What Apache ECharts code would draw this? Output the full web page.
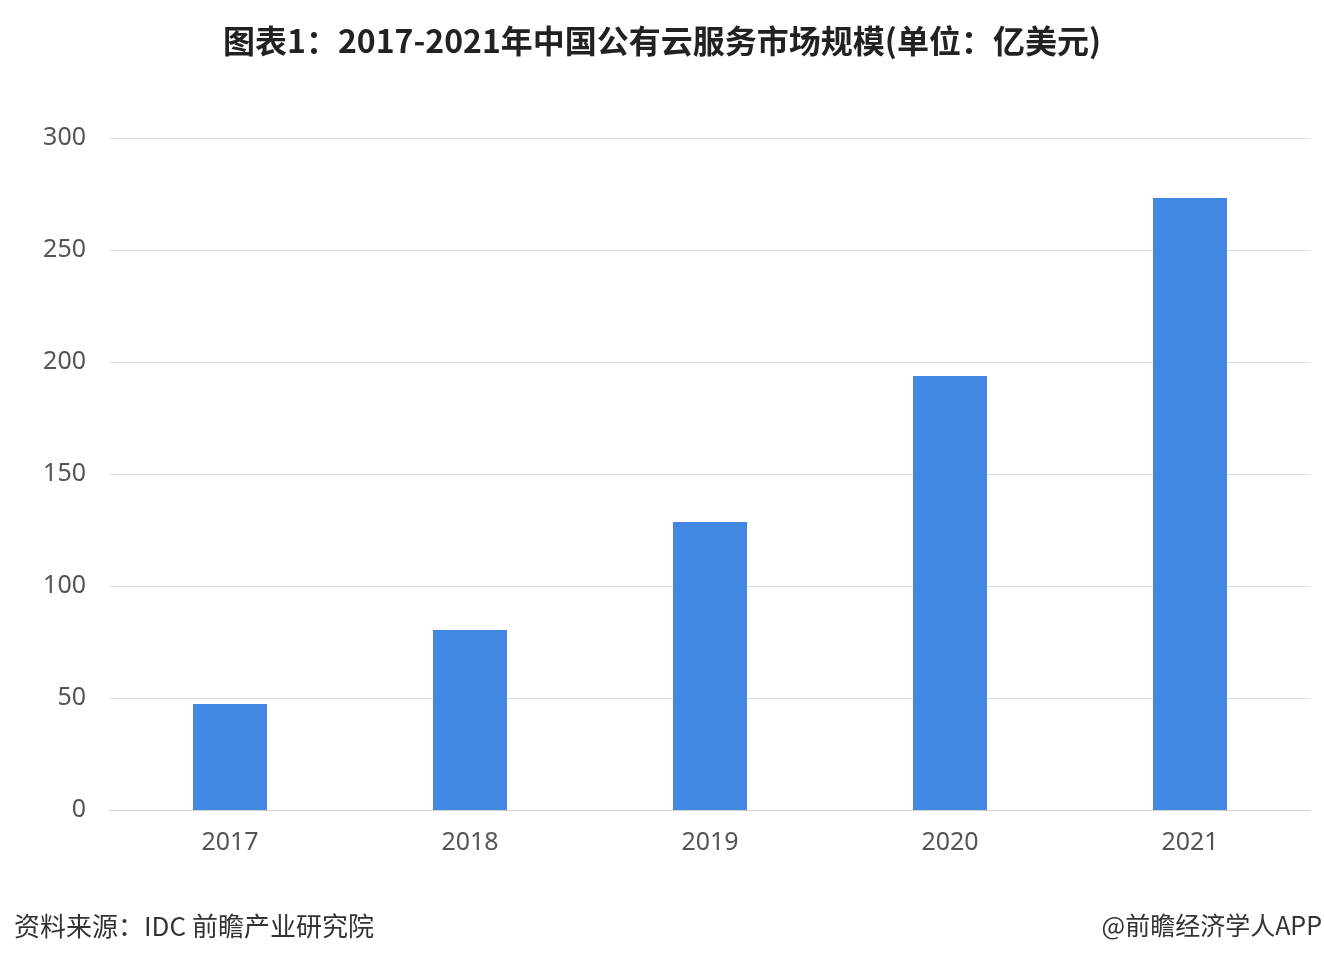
<!DOCTYPE html>
<html><head><meta charset="utf-8">
<script src="https://cdn.jsdelivr.net/npm/echarts@6/dist/echarts.min.js"></script>
<style>html,body{margin:0;padding:0;background:#fff}#c{width:1324px;height:972px}</style>
</head><body><div id="c"></div>
<script>
const categories = ['2017','2018','2019','2020','2021'];
const values = [47.3, 80.4, 128.6, 193.8, 273.2];
const yTicks = [0, 50, 100, 150, 200, 250, 300];
const chart = echarts.init(document.getElementById('c'));
chart.setOption({
  animation:false,
  title:{text:'图表1：2017-2021年中国公有云服务市场规模(单位：亿美元)',left:'center',top:20,
    textStyle:{fontSize:32,fontWeight:'bold',color:'#222',fontFamily:'Noto Sans CJK SC'}},
  grid:{left:110,right:14,top:138,bottom:162},
  xAxis:{type:'category',data:categories,
    axisLine:{lineStyle:{color:'#d0d0d0'}},axisTick:{show:false},
    axisLabel:{fontSize:25,color:'#555',margin:20,fontFamily:'Noto Sans'}},
  yAxis:{type:'value',min:yTicks[0],max:yTicks[yTicks.length-1],interval:50,
    axisLine:{show:false},axisTick:{show:false},
    splitLine:{lineStyle:{color:'#dcdcdc'}},
    axisLabel:{fontSize:25,color:'#555',margin:24,fontFamily:'Noto Sans'}},
  series:[{type:'bar',data:values,barWidth:74,itemStyle:{color:'#4287e1'}}],
  graphic:[
    {type:'text',left:14,top:913,style:{text:'资料来源：IDC 前瞻产业研究院',fontSize:26,fill:'#333',fontFamily:'Noto Sans CJK SC'}},
    {type:'text',right:2,top:913,style:{text:'@前瞻经济学人APP',fontSize:25,fill:'#333',fontFamily:'Noto Sans CJK SC'}}
  ]
});
</script></body></html>
